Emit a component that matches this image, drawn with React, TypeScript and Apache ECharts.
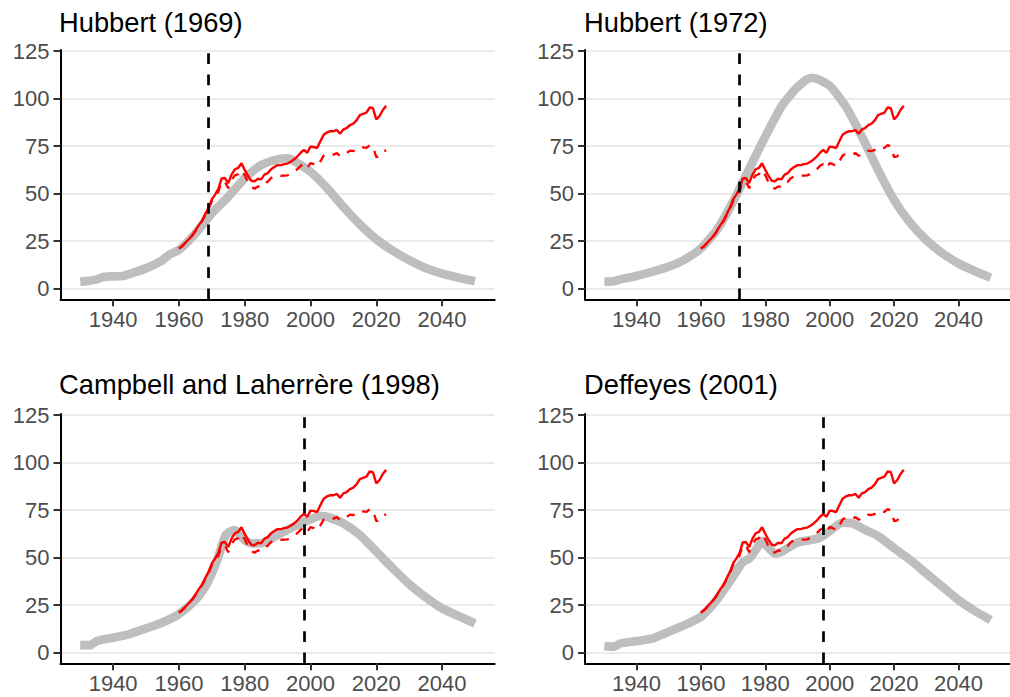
import React, { useEffect, useRef } from "react";
import * as echarts from "echarts";

// ---------- data ----------
const obsYears = [
  1960, 1961, 1962, 1963, 1964, 1965, 1966, 1967, 1968, 1969,
  1970, 1971, 1972, 1973, 1974, 1975, 1976, 1977, 1978, 1979,
  1980, 1981, 1982, 1983, 1984, 1985, 1986, 1987, 1988, 1989,
  1990, 1991, 1992, 1993, 1994, 1995, 1996, 1997, 1998, 1999,
  2000, 2001, 2002, 2003, 2004, 2005, 2006, 2007, 2008, 2009,
  2010, 2011, 2012, 2013, 2014, 2015, 2016, 2017, 2018, 2019,
  2020, 2021, 2022, 2023,
];
const totalLiquids = [
  21.2, 22.5, 24.2, 26.0, 28.0, 30.5, 33.3, 35.8, 39.2, 42.5,
  47.0, 49.5, 52.5, 58.0, 58.2, 55.5, 60.0, 62.8, 63.5, 66.0,
  62.5, 59.3, 56.8, 56.5, 57.8, 57.5, 60.0, 60.8, 62.8, 64.0,
  65.0, 65.0, 65.5, 65.8, 66.8, 68.0, 69.5, 71.5, 73.0, 71.5,
  74.7, 74.5, 74.0, 77.5, 81.0, 82.2, 82.8, 82.8, 83.5, 81.5,
  83.8, 84.5, 86.0, 86.8, 88.5, 91.3, 92.0, 92.6, 95.3, 94.9,
  89.0, 90.8, 94.0, 96.2,
];
const crudeOil = [
  21.0, 22.3, 24.0, 25.8, 27.8, 30.2, 33.0, 35.4, 38.6, 41.8,
  46.0, 48.3, 51.0, 56.5, 56.2, 52.8, 57.2, 59.6, 60.2, 62.5,
  59.6, 56.0, 53.4, 52.6, 53.8, 53.5, 55.8, 56.2, 58.2, 59.0,
  59.7, 59.4, 59.5, 59.6, 60.4, 61.5, 62.9, 64.6, 65.6, 63.4,
  66.0, 65.5, 64.3, 66.9, 70.0, 71.0, 70.8, 70.5, 71.3, 69.8,
  71.2, 71.4, 72.6, 72.4, 73.0, 74.5, 74.3, 74.0, 75.5, 74.8,
  69.2, 69.6, 72.0, 72.8,
];

const hubbert1969Years = [
  1930, 1932, 1935, 1937, 1940, 1943, 1945, 1950, 1955, 1957, 1960, 1965,
  1970, 1975, 1980, 1985, 1990, 1993, 1995, 2000, 2005, 2010, 2015, 2020,
  2025, 2030, 2035, 2040, 2045, 2050,
];
const hubbert1969Values = [
  3.7, 4.0, 4.9, 6.2, 6.5, 6.7, 7.8, 10.7, 15.0, 17.8, 20.4, 29.0,
  39.6, 48.4, 58.0, 65.0, 68.0, 68.6, 67.2, 61.5, 53.0, 43.0, 33.8, 26.0,
  20.0, 15.0, 10.9, 8.0, 5.8, 4.0,
];

const hubbert1972Years = [
  1930, 1933, 1935, 1940, 1945, 1950, 1955, 1960, 1965, 1970, 1975, 1980,
  1985, 1990, 1994, 1995, 2000, 2005, 2010, 2015, 2020, 2025, 2030, 2035,
  2040, 2045, 2050,
];
const hubbert1972Values = [
  3.7, 3.9, 4.9, 6.7, 9.0, 11.6, 15.4, 21.2, 31.0, 45.8, 63.0, 80.0,
  95.8, 106.0, 110.8, 110.8, 106.7, 95.8, 80.0, 62.5, 46.7, 34.7, 25.6, 18.6,
  13.3, 9.3, 5.8,
];

const campbellYears = [
  1930, 1933, 1935, 1940, 1945, 1950, 1955, 1960, 1965, 1968, 1970, 1972,
  1974, 1975, 1977, 1979, 1980, 1982, 1985, 1990, 1995, 2000, 2003, 2005,
  2010, 2015, 2020, 2025, 2030, 2035, 2040, 2045, 2050,
];
const campbellValues = [
  4.0, 4.0, 6.1, 7.9, 9.8, 12.8, 15.9, 20.3, 27.7, 34.7, 41.7, 50.5,
  61.0, 63.1, 64.5, 61.0, 59.2, 57.5, 57.5, 61.9, 66.3, 70.1, 71.9, 71.5,
  68.0, 61.9, 53.2, 44.4, 36.1, 29.1, 23.3, 19.3, 15.4,
];

const deffeyesYears = [
  1930, 1933, 1935, 1940, 1945, 1950, 1955, 1960, 1965, 1970, 1973, 1975,
  1977, 1979, 1980, 1983, 1985, 1990, 1995, 1997, 2000, 2004, 2007, 2011,
  2015, 2020, 2025, 2030, 2035, 2040, 2045, 2050,
];
const deffeyesValues = [
  3.5, 3.2, 4.9, 6.1, 7.5, 11.0, 14.6, 18.9, 28.0, 40.0, 47.7, 49.4,
  54.0, 58.8, 57.0, 52.2, 53.0, 58.0, 59.5, 60.5, 64.0, 68.4, 68.0, 64.6,
  61.4, 55.0, 48.8, 41.7, 34.7, 27.7, 22.0, 17.2,
];

const panelTitles = [
  "Hubbert (1969)",
  "Hubbert (1972)",
  "Campbell and Laherrère (1998)",
  "Deffeyes (2001)",
];
const forecastYears = [1969, 1972, 1998, 1998];
const modelYears = [hubbert1969Years, hubbert1972Years, campbellYears, deffeyesYears];
const modelValues = [hubbert1969Values, hubbert1972Values, campbellValues, deffeyesValues];

const yTicks = [0, 25, 50, 75, 100, 125];
const xTicks = [1940, 1960, 1980, 2000, 2020, 2040];

// ---------- layout / style ----------
const X_MIN = 1924;
const X_MAX = 2056;
const Y_MIN = -5.57;
const Y_MAX = 125.53;
const FONT = "'Liberation Sans', Arial, Helvetica, sans-serif";

const grids = [
  { left: 60.5, top: 50, width: 434.2, height: 249.3 },
  { left: 585, top: 50, width: 434.7, height: 249.3 },
  { left: 60.5, top: 414, width: 434.2, height: 249.3 },
  { left: 585, top: 414, width: 434.7, height: 249.3 },
];
const titlePos = [
  { x: 59, y: 22 },
  { x: 584, y: 22 },
  { x: 59, y: 384 },
  { x: 584, y: 384 },
];

function pairs(xs: number[], ys: number[]) {
  return xs.map((x, i) => [x, ys[i]]);
}

function buildOption() {
  const xAxis: any[] = [];
  const yAxis: any[] = [];
  const series: any[] = [];
  grids.forEach((_, i) => {
    xAxis.push({
      type: "value",
      gridIndex: i,
      min: X_MIN,
      max: X_MAX,
      axisLine: { show: true, onZero: false, lineStyle: { color: "#000", width: 2 } },
      axisTick: {
        show: true,
        customValues: xTicks,
        length: 7,
        lineStyle: { color: "#333", width: 2 },
      },
      axisLabel: {
        customValues: xTicks,
        formatter: (v: number) => String(v),
        fontSize: 22,
        color: "#4D4D4D",
        fontFamily: FONT,
        margin: 9,
      },
      splitLine: { show: false },
    });
    yAxis.push({
      type: "value",
      gridIndex: i,
      min: Y_MIN,
      max: Y_MAX,
      axisLine: { show: true, onZero: false, lineStyle: { color: "#000", width: 2 } },
      axisTick: {
        show: true,
        customValues: yTicks,
        length: 7,
        lineStyle: { color: "#333", width: 2 },
      },
      axisLabel: {
        customValues: yTicks,
        formatter: (v: number) => String(v),
        fontSize: 22,
        color: "#4D4D4D",
        fontFamily: FONT,
        margin: 11,
      },
      splitLine: { show: true, lineStyle: { color: "#EBEBEB", width: 1.8 } },
    });
    series.push({
      type: "line",
      xAxisIndex: i,
      yAxisIndex: i,
      data: pairs(modelYears[i], modelValues[i]),
      showSymbol: false,
      symbol: "none",
      smooth: 0.2,
      lineStyle: { color: "#BEBEBE", width: 8.7, cap: "butt", join: "round" },
      silent: true,
      z: 1,
    });
    series.push({
      type: "line",
      xAxisIndex: i,
      yAxisIndex: i,
      data: pairs(obsYears, totalLiquids),
      showSymbol: false,
      symbol: "none",
      lineStyle: { color: "#FF0000", width: 2.4 },
      silent: true,
      z: 2,
    });
    series.push({
      type: "line",
      xAxisIndex: i,
      yAxisIndex: i,
      data: pairs(obsYears, crudeOil),
      showSymbol: false,
      symbol: "none",
      lineStyle: { color: "#FF0000", width: 2.3, type: [8.5, 8.5] },
      silent: true,
      z: 3,
      markLine: {
        silent: true,
        symbol: ["none", "none"],
        label: { show: false },
        lineStyle: { color: "#000", width: 2.7, type: [10.7, 10.7] },
        data: [{ xAxis: forecastYears[i] }],
        z: 4,
      },
    });
  });

  const graphic = panelTitles.map((t, i) => ({
    type: "text",
    x: titlePos[i].x,
    y: titlePos[i].y,
    style: {
      text: t,
      fontSize: 27.3,
      fontFamily: FONT,
      fill: "#000",
      textVerticalAlign: "middle",
      textAlign: "left",
    },
  }));

  return {
    animation: false,
    backgroundColor: "#fff",
    grid: grids.map((g) => ({ ...g, containLabel: false })),
    xAxis,
    yAxis,
    series,
    graphic,
  };
}

export default function App() {
  const ref = useRef<HTMLDivElement>(null);
  useEffect(() => {
    if (!ref.current) return;
    const chart = echarts.init(ref.current, undefined, { renderer: "svg" });
    chart.setOption(buildOption() as any);
    return () => chart.dispose();
  }, []);
  return (
    <div
      ref={ref}
      style={{ position: "fixed", left: 0, top: 0, width: 1010, height: 697, background: "#fff" }}
    />
  );
}
